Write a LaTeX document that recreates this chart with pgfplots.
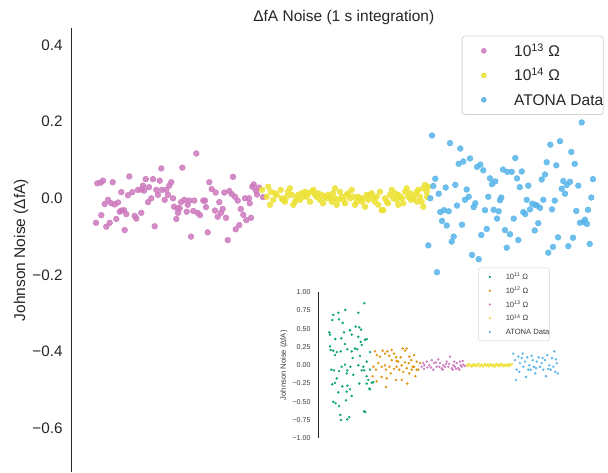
\documentclass[border=0pt]{standalone}
\usepackage{pgfplots}
\pgfplotsset{compat=1.18}
\usepackage{fontspec}
\setmainfont{Liberation Sans}
\definecolor{cbgreen}{HTML}{029E73}
\definecolor{cborange}{HTML}{DE8F05}
\definecolor{cbpink}{HTML}{CC78BC}
\definecolor{cbyellow}{HTML}{ECE133}
\definecolor{cbblue}{HTML}{56B4E9}
\definecolor{spine}{HTML}{262626}
\definecolor{legframe}{HTML}{D4D4D4}
\definecolor{insettext}{HTML}{3A3A3A}
\newcommand{\mainfont}{\fontsize{15.5}{18}\selectfont}
\newcommand{\insetfont}{\fontsize{7.6}{9}\selectfont}

\pgfplotstableread{
x y
97.3 0.039
100.7 0.041
103 0.046
112.7 0.042
129.3 0.057
161.3 0.078
121.3 0.016
128 0.008
132.3 0.016
138 0.022
141.3 0.023
143 0.033
145.7 0.050
153 0.050
159.7 0.046
149 0.029
144 0.020
156.3 0.022
162 0.022
166.3 0.022
169.3 0.033
171.3 0.042
158 0.009
151.3 0.000
148 -0.010
164.7 -0.004
168 0.009
173 0.000
108 -0.004
104.7 -0.015
111.3 -0.013
114.7 -0.016
118 -0.011
121.3 -0.032
119.7 -0.035
124 -0.031
126.3 -0.041
101.3 -0.044
96 -0.064
109.7 -0.064
106.3 -0.074
116.3 -0.054
134.7 -0.046
136.3 -0.053
141.3 -0.038
124.7 -0.083
154.7 -0.073
174 -0.022
177.3 -0.026
178 -0.038
176.3 -0.054
196.3 0.117
182.3 0.080
233 0.056
209.3 0.042
211.7 0.024
215.7 0.015
224.3 0.015
229.3 0.019
231.7 0.011
235 0.004
253.7 0.036
252.3 0.030
259 0.028
256 0.020
257 0.010
245 0.000
249 0.000
249.7 -0.013
237.7 -0.006
219.3 -0.010
203.3 -0.006
205 -0.006
194.3 -0.006
189.3 -0.006
184.3 -0.004
181 -0.010
187.7 -0.017
206 -0.023
179.7 -0.026
186.7 -0.035
193.3 -0.033
197.7 -0.038
200 -0.044
215 -0.032
222.7 -0.028
221 -0.038
217.7 -0.048
226 -0.051
240.7 -0.028
243.3 -0.043
246.3 -0.057
251 -0.051
239.3 -0.070
235.7 -0.081
207.7 -0.089
191 -0.100
227.7 -0.109
263 0.003
}\mainpink

\pgfplotstableread{
x y
268.3 0.030
270.7 0.017
266.7 0.004
273.3 -0.004
270 -0.017
276.7 0.009
280.7 0.022
281.7 0.000
285 -0.009
286.7 0.004
290 0.026
291.7 0.009
293.3 -0.017
296.7 0.000
298.3 0.009
300 -0.004
301.7 0.013
305 0.017
306.7 0.004
308.3 0.013
310 -0.009
311.7 0.017
313.3 0.022
315 0.009
316.7 0.004
320 -0.004
321.7 0.009
325 0.004
326.7 0.000
330 0.004
331.7 -0.009
335 0.000
336.7 -0.017
340 0.017
341.7 0.004
343.3 -0.004
346.7 0.009
350 0.000
351.7 0.022
353.3 0.004
355 -0.017
356.7 -0.009
360 0.000
363.3 0.000
365 -0.022
366.7 0.009
368.3 -0.004
371.7 0.013
373.3 0.000
375 -0.009
376.7 0.004
378.3 -0.017
381.7 -0.031
383.3 -0.031
386.7 -0.009
390 0.009
391.7 0.022
393.3 0.000
395 0.013
396.7 -0.004
398.3 -0.017
400 0.004
403.3 -0.013
405 0.017
406.7 0.026
408.3 0.004
410 0.013
413.3 0.000
415 0.009
416.7 0.017
418.3 0.022
420 0.004
421.7 -0.009
423.3 0.026
425 0.035
426.7 0.017
428.3 0.030
423.3 -0.022
335 0.026
262 0.022
275 0.013
283 -0.004
288 0.017
295 -0.009
303 0.004
318 0.013
323 -0.013
328 0.009
333 0.013
338 -0.004
345 -0.013
348 0.013
358 0.004
362 -0.009
370 0.009
380 0.017
385 0.000
388 -0.013
398 0.009
402 0.000
411 -0.004
417 -0.009
427 0.004
}\mainyellow

\pgfplotstableread{
x y
432 0.164
450 0.144
460.3 0.130
470 0.104
458.7 0.090
463.3 0.096
477 0.082
480.3 0.088
483.3 0.073
503 0.075
507.3 0.069
435.3 0.051
433.3 0.032
445.7 0.028
455.3 0.035
490 0.052
495.3 0.044
492 0.037
466.7 0.023
438.7 0.012
430.3 0.000
468.7 0.004
465 -0.004
488.3 0.004
501.3 0.002
500 -0.005
475.3 -0.013
473.7 -0.023
457 -0.019
440.3 -0.036
444 -0.031
448.7 -0.034
485 -0.031
493.7 -0.030
498.7 -0.034
497 -0.053
442 -0.059
446.7 -0.071
462 -0.069
486.7 -0.080
505 -0.083
481.3 -0.096
453.7 -0.100
451.7 -0.113
428.3 -0.123
506.7 -0.129
472 -0.148
478.7 -0.159
437 -0.193
581.7 0.198
550.3 0.140
560 0.149
571.3 0.121
515.3 0.105
546.7 0.094
556.3 0.086
574.7 0.090
511.7 0.069
521.7 0.070
517 0.052
545 0.062
541.7 0.049
563.3 0.045
570 0.043
566.7 0.035
593 0.050
578.3 0.033
519.7 0.029
528.3 0.033
561.7 0.025
565 0.012
591.3 0.002
526.7 -0.004
543.3 -0.004
554.7 -0.006
532.3 -0.014
535 -0.017
537 -0.019
540 -0.025
530 -0.029
552 -0.029
588 -0.030
576.3 -0.033
523.3 -0.036
525.3 -0.041
513.7 -0.053
585 -0.056
583.7 -0.062
580 -0.064
587 -0.067
538.3 -0.065
534.7 -0.084
510 -0.094
518.3 -0.109
558 -0.102
573 -0.103
568.3 -0.125
553 -0.127
548.3 -0.142
589.7 -0.119
}\mainblue

\pgfplotstableread{
x y
364.3 0.85
345.3 0.76
358.3 0.72
338.3 0.72
333.3 0.69
332.3 0.62
339 0.63
329.3 0.45
330 0.42
335.3 0.36
342.7 0.58
344 0.45
350 0.48
355.7 0.53
359.3 0.52
361 0.49
351.7 0.42
358.3 0.39
365 0.35
366.7 0.36
360.7 0.32
341.3 0.37
345 0.29
330.7 0.21
333.3 0.20
336.7 0.18
340.7 0.19
347.3 0.22
355 0.23
357.3 0.22
361.7 0.28
351.7 0.19
370 0.18
360 0.13
352.7 0.10
366.7 0.05
345 0.01
341.7 -0.02
350.3 -0.02
358.3 0.00
363.3 -0.02
331.3 -0.06
334 -0.07
339 -0.08
347.3 -0.07
361.7 -0.07
364.3 -0.07
370 -0.06
346.7 -0.11
336.7 -0.18
353.3 -0.13
366.7 -0.15
368.3 -0.20
371.7 -0.24
332.3 -0.26
335 -0.24
359.3 -0.25
373.3 -0.23
342.3 -0.29
347.3 -0.28
350 -0.33
366.7 -0.25
369.3 -0.32
370 -0.33
338.3 -0.37
346.7 -0.36
351.7 -0.42
346 -0.48
333.3 -0.50
335.7 -0.52
339 -0.56
364 -0.63
365.3 -0.64
340.3 -0.68
341 -0.75
347.3 -0.74
349.3 -0.71
330 0.26
335 0.14
}\insetgreen

\pgfplotstableread{
x y
375 0.19
376.7 0.14
380 0.12
382.7 0.20
385 0.16
387.3 0.19
389.3 0.13
391.7 0.21
394 0.16
396 0.11
396.7 0.06
400.7 0.11
402.7 0.23
405 0.20
406.7 0.23
409.3 0.12
411.3 0.07
414 0.14
416.7 0.05
373.3 -0.02
376 -0.06
378.3 0.03
381.7 -0.02
385 0.00
386 -0.06
389.3 -0.02
390.7 -0.11
394 -0.05
396.7 -0.02
399.3 -0.06
401.7 0.00
403.3 -0.09
406.7 -0.04
409.3 -0.11
411.7 -0.06
414 -0.02
418.3 -0.06
376.7 -0.22
386 -0.30
396 -0.20
401.7 -0.20
407.3 -0.25
415.3 -0.15
372.7 -0.15
381.7 -0.16
386.7 -0.18
391.7 0.07
398.3 0.05
405 0.04
408.7 0.03
412.7 -0.02
420 0.03
416.7 -0.06
}\insetorange

\pgfplotstableread{
x y
421.7 -0.02
423.3 0.03
426.7 0.05
429.3 0.00
431.7 0.07
434 0.03
436.7 -0.02
438.3 0.08
440 0.03
441.7 -0.04
443.3 0.00
445 -0.02
446.7 0.05
448.3 -0.02
450 0.12
451.7 -0.04
453.3 0.00
455 -0.02
456.7 0.03
458.3 -0.04
460 0.05
461.7 -0.02
463.3 0.01
465 -0.01
424 -0.05
427.3 -0.03
433.3 -0.06
436 0.04
442.7 -0.06
446 0.02
452.7 -0.06
456 -0.05
460.7 0.00
424.3 0.00
431 -0.03
439.3 -0.02
449.3 0.02
454.3 0.05
459.3 -0.06
462.7 0.06
}\insetpink

\pgfplotstableread{
x y
467 0.01
468.2 -0.01
469.3 0.02
470.5 0.00
471.6 -0.02
472.8 0.01
474 -0.005
475.1 0.015
476.3 -0.01
477.4 0.005
478.6 0.02
479.7 -0.015
480.9 0.00
482 0.01
483.2 -0.02
484.3 0.005
485.5 0.015
486.6 -0.005
487.8 0.01
488.9 -0.015
490.1 0.02
491.2 0.00
492.4 -0.01
493.5 0.01
494.7 -0.02
495.8 0.005
497 0.015
498.1 -0.005
499.3 0.01
500.4 -0.01
501.6 0.02
502.7 0.00
503.9 -0.015
505 0.01
506.2 0.005
507.3 -0.01
508.5 0.015
509.6 -0.005
510.8 0.01
512 0.02
}\insetyellow

\pgfplotstableread{
x y
513.3 0.16
515 0.07
516.7 -0.06
516 -0.20
518.3 0.12
520 0.03
521.7 0.10
523.3 -0.02
525 0.05
526 -0.16
527.3 0.11
529.3 0.00
530.7 -0.06
532.7 0.07
534 -0.02
535.3 -0.11
536.7 0.05
538.7 0.11
540 -0.02
541.7 0.03
543.3 -0.06
545 0.07
546 -0.15
547.3 0.14
549.3 0.00
550.7 -0.06
552 0.10
553.3 -0.02
554.3 0.19
555.3 -0.09
556.7 0.03
557.7 -0.11
519.3 -0.09
522.7 0.16
528.3 -0.06
531.7 0.13
536 -0.04
542.7 0.10
548.3 -0.05
556 0.08
}\insetblue

\begin{document}
\begin{tikzpicture}[x=1pt,y=1pt]
\begin{axis}[
  at={(71pt,0pt)}, anchor=south west,
  scale only axis, width=537pt, height=444pt,
  xmin=71, xmax=608, ymin=-0.7146, ymax=0.4446,
  axis y line*=left, axis x line=none,
  xtick=\empty,
  ytick={-0.6,-0.4,-0.2,0,0.2,0.4},
  yticklabels={−0.6,−0.4,−0.2,0.0,0.2,0.4},
  major tick length=0pt,
  yticklabel style={font=\fontsize{15.2}{18}\selectfont, text=spine, inner sep=0pt, anchor=east, xshift=-8.3pt},
  y axis line style={draw=spine, line width=0.8pt},
  title={ΔfA Noise (1 s integration)},
  title style={at={(axis description cs:0.508,1.0011)}, anchor=base, yshift=0pt, inner sep=0pt, font=\mainfont, text=spine},
  ylabel={Johnson Noise (ΔfA)},
  ylabel style={at={(axis description cs:-0.093,0.5)}, anchor=center, font=\mainfont, text=spine},
  legend style={at={(axis description cs:0.7276,0.9827)}, anchor=north west,
    draw=legframe, line width=0.8pt, rounded corners=3pt, fill=white,
    inner xsep=0pt, inner ysep=2.5pt, column sep=0pt, row sep=0pt,
    cells={anchor=west},
    nodes={inner sep=0pt, text height=17.65pt, text depth=6.85pt, font=\mainfont, text=spine}},
  legend image code/.code={\path (0pt,0pt) (51.3pt,0pt); \draw[#1, mark size=2.3pt] plot coordinates {(21.3pt,0pt)};},
]
\addplot[only marks, mark=*, mark size=2.9pt, color=cbpink, mark options={draw=none, fill=cbpink, fill opacity=0.85}] table[x=x,y=y] {\mainpink};
\addlegendentry{10\textsuperscript{13} Ω}
\addplot[only marks, mark=*, mark size=2.9pt, color=cbyellow, mark options={draw=none, fill=cbyellow, fill opacity=0.85}] table[x=x,y=y] {\mainyellow};
\addlegendentry{10\textsuperscript{14} Ω}
\addplot[only marks, mark=*, mark size=2.9pt, color=cbblue, mark options={draw=none, fill=cbblue, fill opacity=0.85}] table[x=x,y=y] {\mainblue};
\addlegendentry{ATONA Data}
\end{axis}

\begin{axis}[
  at={(318.7pt,33.7pt)}, anchor=south west,
  scale only axis, width=246.3pt, height=146pt,
  xmin=318.7, xmax=565, ymin=-1, ymax=1,
  axis y line*=left, axis x line=none,
  xtick=\empty,
  ytick={-1,-0.75,-0.5,-0.25,0,0.25,0.5,0.75,1},
  yticklabels={−1.00,−0.75,−0.50,−0.25,0.00,0.25,0.50,0.75,1.00},
  major tick length=0pt,
  yticklabel style={font=\fontsize{7.1}{8}\selectfont, text=insettext, inner sep=0pt, anchor=east, xshift=-8pt},
  y axis line style={draw=spine, line width=0.7pt},
  ylabel={Johnson Noise (ΔfA)},
  ylabel style={at={(axis description cs:-0.1409,0.5)}, anchor=center, font=\insetfont, text=insettext},
  legend style={at={(axis description cs:0.6468,1.1685)}, anchor=north west,
    draw=legframe, line width=0.5pt, rounded corners=1.5pt, fill=white,
    inner xsep=0pt, inner ysep=2.1pt, column sep=0pt, row sep=0pt,
    cells={anchor=west},
    nodes={inner sep=0pt, text height=9.6pt, text depth=4.15pt, font=\insetfont, text=insettext}},
  legend image code/.code={\path (0pt,0pt) (27pt,0pt); \draw[#1, mark size=0.8pt] plot coordinates {(11.3pt,0pt)};},
]
\addplot[only marks, mark=*, mark size=1pt, color=cbgreen, mark options={draw=none, fill=cbgreen, fill opacity=0.85}] table[x=x,y=y] {\insetgreen};
\addlegendentry{10\textsuperscript{11} Ω}
\addplot[only marks, mark=*, mark size=1pt, color=cborange, mark options={draw=none, fill=cborange, fill opacity=0.85}] table[x=x,y=y] {\insetorange};
\addlegendentry{10\textsuperscript{12} Ω}
\addplot[only marks, mark=*, mark size=1pt, color=cbpink, mark options={draw=none, fill=cbpink, fill opacity=0.85}] table[x=x,y=y] {\insetpink};
\addlegendentry{10\textsuperscript{13} Ω}
\addplot[only marks, mark=*, mark size=1pt, color=cbyellow, mark options={draw=none, fill=cbyellow, fill opacity=0.85}] table[x=x,y=y] {\insetyellow};
\addlegendentry{10\textsuperscript{14} Ω}
\addplot[only marks, mark=*, mark size=1pt, color=cbblue, mark options={draw=none, fill=cbblue, fill opacity=0.85}] table[x=x,y=y] {\insetblue};
\addlegendentry{ATONA Data}
\end{axis}
\pgfresetboundingbox
\useasboundingbox (0pt,0pt) rectangle (608pt,472pt);
\end{tikzpicture}
\end{document}
